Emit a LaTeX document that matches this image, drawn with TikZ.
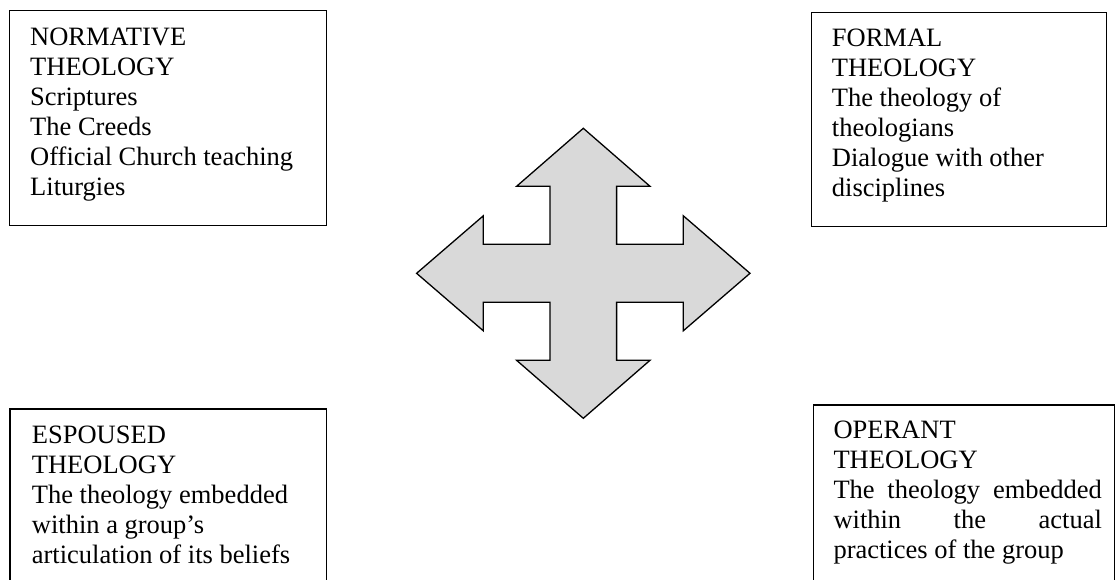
\documentclass[tikz,border=0pt]{standalone}
\usepackage{fontspec}
\setmainfont{Liberation Serif}
\begin{document}
\begin{tikzpicture}[x=1pt,y=-1pt,
  box/.style={draw=black,line width=1.3pt,fill=none},
  boxtext/.style={anchor=north west,inner sep=0pt,align=left,
    font=\fontsize{26.5pt}{30pt}\selectfont},
  arrowshape/.style={draw=black,line width=1.3pt,fill=black!15,line join=miter}]
\useasboundingbox (0,0) rectangle (1115,580);
\clip (0,0) rectangle (1115,580);
% first-line strut: baseline sits 20pt below the top of each text node
\newcommand{\firstline}{\rule{0pt}{20pt}}
\newcommand{\linew}{268.4pt}

% the four boxes
\node[box,anchor=north west,minimum width=316.7pt,minimum height=215pt,inner sep=0pt] (nwbox) at (9,10) {};
\node[box,anchor=north west,minimum width=295.3pt,minimum height=214.3pt,inner sep=0pt] (nebox) at (810.7,11.7) {};
\node[box,anchor=north west,minimum width=316.4pt,minimum height=200pt,inner sep=0pt] (swbox) at (9.3,408.3) {};
\node[box,anchor=north west,minimum width=300.8pt,minimum height=200pt,inner sep=0pt] (sebox) at (812.7,404.3) {};

% box texts
\node[boxtext] (nwtext) at (30,25) {\firstline NORMATIVE\\THEOLOGY\\Scriptures\\The Creeds\\Official Church teaching\\Liturgies};
\node[boxtext] (netext) at (831.7,26) {\firstline FORMAL\\THEOLOGY\\The theology of\\theologians\\Dialogue with other\\disciplines};
\node[boxtext] (swtext) at (31.7,423.3) {\firstline ESPOUSED\\THEOLOGY\\The theology embedded\\within a group’s\\articulation of its beliefs};
\node[boxtext] (setext) at (833.3,418.3) {\firstline OPERANT\\THEOLOGY\\\hbox to \linew{The\hfill theology\hfill embedded}\\\hbox to \linew{within\hfill the\hfill actual}\\practices of the group};

% four-way arrow in the middle
\draw[arrowshape,shift={(583.3,273.3)}]
  (0,-145) -- (66.7,-87) -- (33.3,-87) -- (33.3,-29) -- (100,-29) -- (100,-57.5)
  -- (166.7,0) -- (100,57.5) -- (100,29) -- (33.3,29) -- (33.3,87) -- (66.7,87)
  -- (0,145) -- (-66.7,87) -- (-33.3,87) -- (-33.3,29) -- (-100,29) -- (-100,57.5)
  -- (-166.7,0) -- (-100,-57.5) -- (-100,-29) -- (-33.3,-29) -- (-33.3,-87) -- (-66.7,-87)
  -- cycle;
\end{tikzpicture}
\end{document}
